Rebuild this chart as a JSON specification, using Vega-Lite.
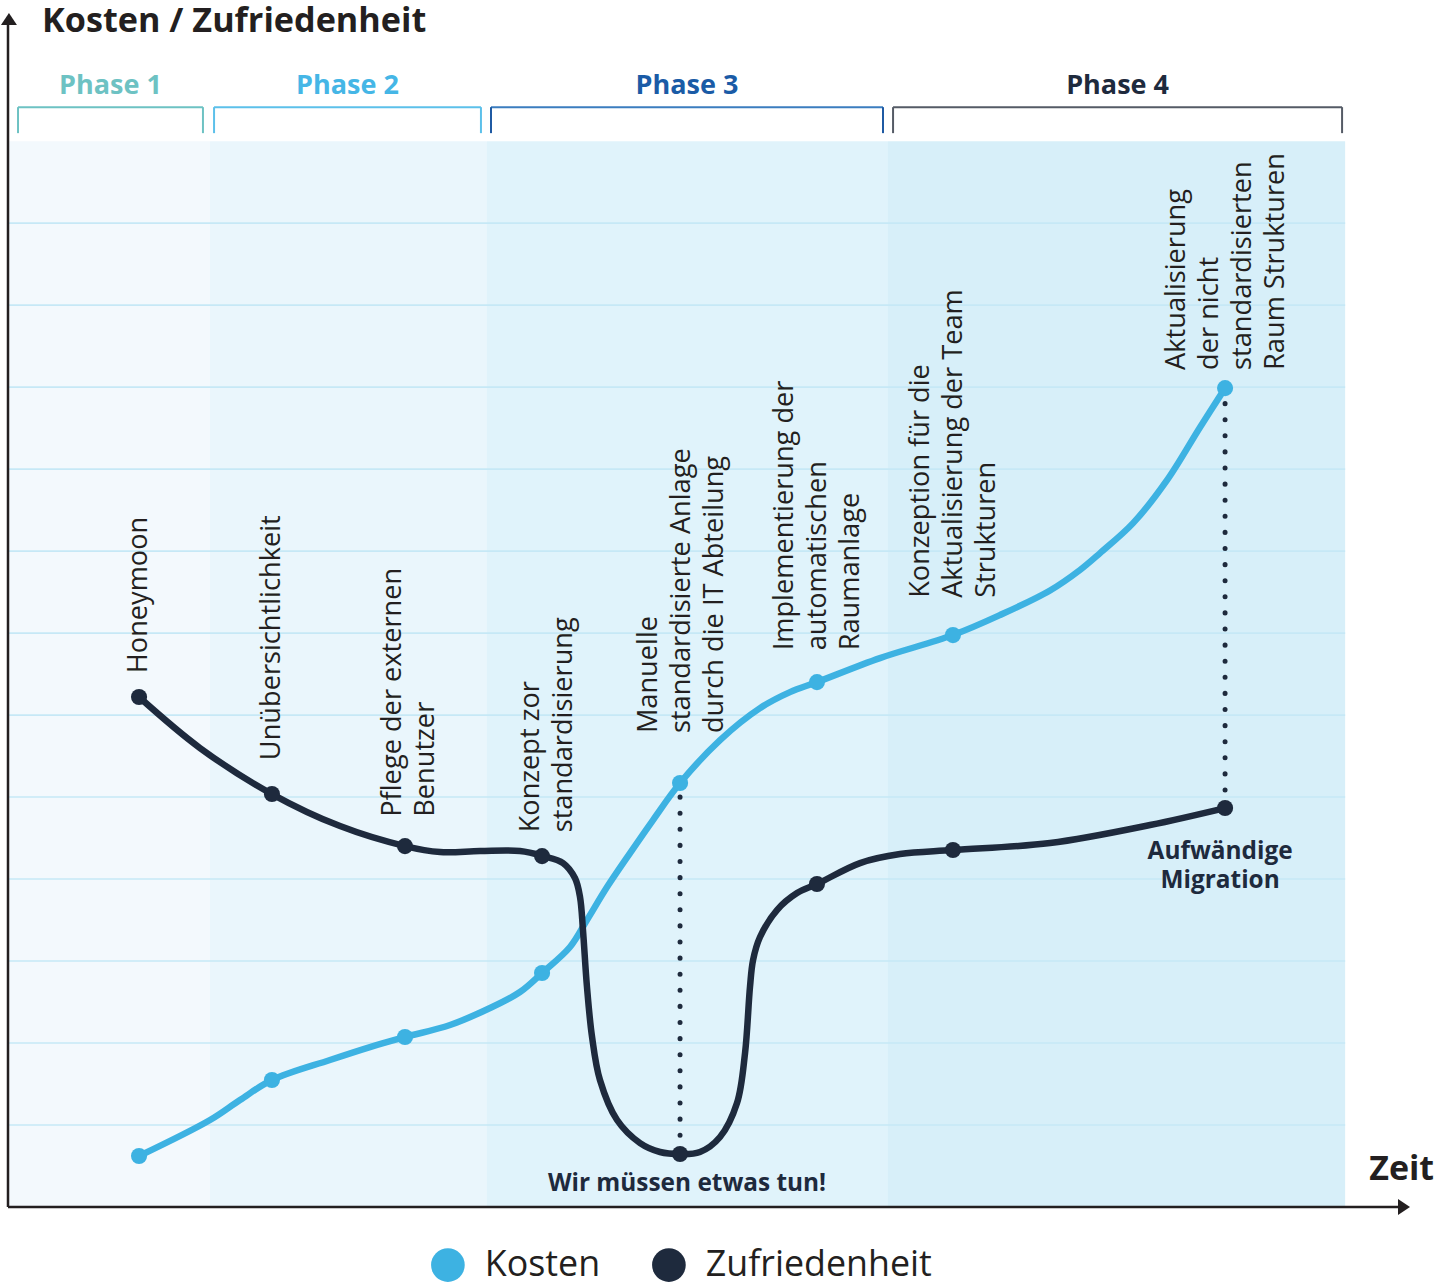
{
  "$schema": "https://vega.github.io/schema/vega-lite/v6.json",
  "width": 1404,
  "height": 1197,
  "autosize": "none",
  "padding": {"left": 8, "top": 10, "right": 25, "bottom": 78},
  "background": "white",
  "config": {"view": {"stroke": null}, "font": "Open Sans"},
  "datasets": {
    "phases": [
      {"phase": "Phase 1", "start": 0, "end": 15.11, "bStart": 0.75, "bEnd": 14.58, "center": 7.66},
      {"phase": "Phase 2", "start": 15.11, "end": 35.82, "bStart": 15.41, "bEnd": 35.37, "center": 25.39},
      {"phase": "Phase 3", "start": 35.82, "end": 65.81, "bStart": 36.12, "bEnd": 65.44, "center": 50.78},
      {"phase": "Phase 4", "start": 65.81, "end": 100, "bStart": 66.19, "bEnd": 99.77, "center": 82.98}
    ],
    "grid": [{"level": 1}, {"level": 2}, {"level": 3}, {"level": 4}, {"level": 5}, {"level": 6}, {"level": 7}, {"level": 8}, {"level": 9}, {"level": 10}, {"level": 11}, {"level": 12}],
    "curve": [
      {"series": "Kosten", "t": 9.80, "v": 0.622},
      {"series": "Kosten", "t": 15.11, "v": 1.061},
      {"series": "Kosten", "t": 17.35, "v": 1.305},
      {"series": "Kosten", "t": 19.74, "v": 1.549},
      {"series": "Kosten", "t": 24.08, "v": 1.793},
      {"series": "Kosten", "t": 27.07, "v": 1.951},
      {"series": "Kosten", "t": 29.69, "v": 2.073},
      {"series": "Kosten", "t": 33.06, "v": 2.220},
      {"series": "Kosten", "t": 36.05, "v": 2.427},
      {"series": "Kosten", "t": 38.29, "v": 2.622},
      {"series": "Kosten", "t": 39.94, "v": 2.854},
      {"series": "Kosten", "t": 42.03, "v": 3.171},
      {"series": "Kosten", "t": 43.30, "v": 3.500},
      {"series": "Kosten", "t": 44.80, "v": 3.902},
      {"series": "Kosten", "t": 46.52, "v": 4.317},
      {"series": "Kosten", "t": 48.24, "v": 4.720},
      {"series": "Kosten", "t": 50.26, "v": 5.171},
      {"series": "Kosten", "t": 53.25, "v": 5.695},
      {"series": "Kosten", "t": 56.24, "v": 6.085},
      {"series": "Kosten", "t": 58.48, "v": 6.280},
      {"series": "Kosten", "t": 60.50, "v": 6.402},
      {"series": "Kosten", "t": 65.21, "v": 6.695},
      {"series": "Kosten", "t": 70.67, "v": 6.976},
      {"series": "Kosten", "t": 74.19, "v": 7.220},
      {"series": "Kosten", "t": 77.93, "v": 7.520},
      {"series": "Kosten", "t": 80.17, "v": 7.770},
      {"series": "Kosten", "t": 81.67, "v": 7.976},
      {"series": "Kosten", "t": 84.14, "v": 8.341},
      {"series": "Kosten", "t": 86.68, "v": 8.866},
      {"series": "Kosten", "t": 89.15, "v": 9.512},
      {"series": "Kosten", "t": 91.02, "v": 9.988},
      {"series": "Zufriedenheit", "t": 9.80, "v": 6.220},
      {"series": "Zufriedenheit", "t": 14.36, "v": 5.598},
      {"series": "Zufriedenheit", "t": 19.74, "v": 5.037},
      {"series": "Zufriedenheit", "t": 24.83, "v": 4.646},
      {"series": "Zufriedenheit", "t": 29.69, "v": 4.402},
      {"series": "Zufriedenheit", "t": 32.31, "v": 4.329},
      {"series": "Zufriedenheit", "t": 35.30, "v": 4.341},
      {"series": "Zufriedenheit", "t": 38.29, "v": 4.341},
      {"series": "Zufriedenheit", "t": 40.01, "v": 4.280},
      {"series": "Zufriedenheit", "t": 41.51, "v": 4.195},
      {"series": "Zufriedenheit", "t": 42.40, "v": 4.012},
      {"series": "Zufriedenheit", "t": 42.78, "v": 3.780},
      {"series": "Zufriedenheit", "t": 43.00, "v": 3.378},
      {"series": "Zufriedenheit", "t": 43.30, "v": 2.683},
      {"series": "Zufriedenheit", "t": 43.68, "v": 2.073},
      {"series": "Zufriedenheit", "t": 44.27, "v": 1.549},
      {"series": "Zufriedenheit", "t": 45.55, "v": 1.061},
      {"series": "Zufriedenheit", "t": 47.27, "v": 0.780},
      {"series": "Zufriedenheit", "t": 48.76, "v": 0.671},
      {"series": "Zufriedenheit", "t": 50.26, "v": 0.646},
      {"series": "Zufriedenheit", "t": 51.75, "v": 0.671},
      {"series": "Zufriedenheit", "t": 53.25, "v": 0.854},
      {"series": "Zufriedenheit", "t": 54.52, "v": 1.268},
      {"series": "Zufriedenheit", "t": 55.12, "v": 1.878},
      {"series": "Zufriedenheit", "t": 55.49, "v": 2.683},
      {"series": "Zufriedenheit", "t": 55.72, "v": 3.012},
      {"series": "Zufriedenheit", "t": 56.24, "v": 3.293},
      {"series": "Zufriedenheit", "t": 57.51, "v": 3.622},
      {"series": "Zufriedenheit", "t": 59.01, "v": 3.829},
      {"series": "Zufriedenheit", "t": 60.50, "v": 3.939},
      {"series": "Zufriedenheit", "t": 63.72, "v": 4.195},
      {"series": "Zufriedenheit", "t": 66.71, "v": 4.305},
      {"series": "Zufriedenheit", "t": 70.67, "v": 4.354},
      {"series": "Zufriedenheit", "t": 77.93, "v": 4.439},
      {"series": "Zufriedenheit", "t": 85.41, "v": 4.659},
      {"series": "Zufriedenheit", "t": 91.02, "v": 4.866}
    ],
    "points": [
      {"series": "Kosten", "t": 9.80, "v": 0.622},
      {"series": "Kosten", "t": 19.74, "v": 1.549},
      {"series": "Kosten", "t": 29.69, "v": 2.073},
      {"series": "Kosten", "t": 39.94, "v": 2.854},
      {"series": "Kosten", "t": 50.26, "v": 5.171},
      {"series": "Kosten", "t": 60.50, "v": 6.402},
      {"series": "Kosten", "t": 70.67, "v": 6.976},
      {"series": "Kosten", "t": 91.02, "v": 9.988},
      {"series": "Zufriedenheit", "t": 9.80, "v": 6.220},
      {"series": "Zufriedenheit", "t": 19.74, "v": 5.037},
      {"series": "Zufriedenheit", "t": 29.69, "v": 4.402},
      {"series": "Zufriedenheit", "t": 39.94, "v": 4.280},
      {"series": "Zufriedenheit", "t": 50.26, "v": 0.646},
      {"series": "Zufriedenheit", "t": 60.50, "v": 3.939},
      {"series": "Zufriedenheit", "t": 70.67, "v": 4.354},
      {"series": "Zufriedenheit", "t": 91.02, "v": 4.866}
    ],
    "labels": [
      {"text": "Honeymoon", "t": 9.80, "v": 6.51},
      {"text": "Unübersichtlichkeit", "t": 19.74, "v": 5.45},
      {"text": "Pflege der externen\nBenutzer", "t": 29.69, "v": 4.76},
      {"text": "Konzept zor\nstandardisierung", "t": 39.94, "v": 4.57},
      {"text": "Manuelle\nstandardisierte Anlage\ndurch die IT Abteilung", "t": 50.26, "v": 5.78},
      {"text": "Implementierung der\nautomatischen\nRaumanlage", "t": 60.50, "v": 6.79},
      {"text": "Konzeption für die\nAktualisierung der Team\nStrukturen", "t": 70.67, "v": 7.43},
      {"text": "Aktualisierung\nder nicht\nstandardisierten\nRaum Strukturen", "t": 91.02, "v": 10.21}
    ],
    "notes": [
      {"text": "Wir müssen etwas tun!", "t": 50.78, "v": 0.28},
      {"text": "Aufwändige", "t": 90.65, "v": 4.33},
      {"text": "Migration", "t": 90.65, "v": 3.98}
    ],
    "drops": [
      {"t": 50.26, "from": 5.0, "to": 0.75},
      {"t": 91.02, "from": 9.8, "to": 4.98}
    ]
  },
  "resolve": {"scale": {"color": "independent"}},
  "layer": [
    {
      "data": {"name": "phases"},
      "mark": {"type": "rect"},
      "encoding": {
        "x": {"field": "start", "type": "quantitative", "scale": {"domain": [0, 105], "nice": false, "zero": false}, "axis": null},
        "x2": {"field": "end"},
        "y": {"datum": 0, "type": "quantitative", "scale": {"domain": [0, 14.6], "nice": false, "zero": false}, "axis": null},
        "y2": {"datum": 13},
        "color": {"field": "phase", "type": "nominal", "legend": null,
          "scale": {"domain": ["Phase 1", "Phase 2", "Phase 3", "Phase 4"], "range": ["#f3f9fd", "#eaf6fc", "#e0f3fb", "#d7eff9"]}}
      }
    },
    {
      "data": {"name": "grid"},
      "mark": {"type": "rule", "color": "#c6e8f6", "strokeWidth": 1.6},
      "encoding": {
        "x": {"datum": 0, "type": "quantitative"},
        "x2": {"datum": 100},
        "y": {"field": "level", "type": "quantitative"}
      }
    },
    {
      "data": {"name": "phases"},
      "mark": {"type": "rule", "strokeWidth": 2},
      "encoding": {
        "x": {"field": "bStart", "type": "quantitative"},
        "x2": {"field": "bEnd"},
        "y": {"datum": 13.415, "type": "quantitative"},
        "color": {"field": "phase", "type": "nominal", "legend": null,
          "scale": {"domain": ["Phase 1", "Phase 2", "Phase 3", "Phase 4"], "range": ["#6dc2c3", "#5cc0ea", "#3b7dbf", "#555b66"]}}
      }
    },
    {
      "data": {"name": "phases"},
      "mark": {"type": "rule", "strokeWidth": 2},
      "encoding": {
        "x": {"field": "bStart", "type": "quantitative"},
        "y": {"datum": 13.098, "type": "quantitative"},
        "y2": {"datum": 13.415},
        "color": {"field": "phase", "type": "nominal", "legend": null,
          "scale": {"domain": ["Phase 1", "Phase 2", "Phase 3", "Phase 4"], "range": ["#6dc2c3", "#5cc0ea", "#1f5aa3", "#555b66"]}}
      }
    },
    {
      "data": {"name": "phases"},
      "mark": {"type": "rule", "strokeWidth": 2},
      "encoding": {
        "x": {"field": "bEnd", "type": "quantitative"},
        "y": {"datum": 13.098, "type": "quantitative"},
        "y2": {"datum": 13.415},
        "color": {"field": "phase", "type": "nominal", "legend": null,
          "scale": {"domain": ["Phase 1", "Phase 2", "Phase 3", "Phase 4"], "range": ["#6dc2c3", "#5cc0ea", "#1f5aa3", "#555b66"]}}
      }
    },
    {
      "data": {"name": "phases"},
      "mark": {"type": "text", "fontSize": 27, "fontWeight": "bold", "font": "Open Sans", "align": "center", "baseline": "middle"},
      "encoding": {
        "x": {"field": "center", "type": "quantitative"},
        "y": {"datum": 13.67, "type": "quantitative"},
        "text": {"field": "phase"},
        "color": {"field": "phase", "type": "nominal", "legend": null,
          "scale": {"domain": ["Phase 1", "Phase 2", "Phase 3", "Phase 4"], "range": ["#6dc2c3", "#45b6e6", "#1a5ba6", "#1e2a3d"]}}
      }
    },
    {
      "data": {"name": "drops"},
      "mark": {"type": "rule", "color": "#1e2a3d", "strokeWidth": 5, "strokeCap": "round", "strokeDash": [0.1, 16]},
      "encoding": {
        "x": {"field": "t", "type": "quantitative"},
        "y": {"field": "from", "type": "quantitative"},
        "y2": {"field": "to"}
      }
    },
    {
      "data": {"name": "curve"},
      "mark": {"type": "line", "interpolate": "catmull-rom", "strokeWidth": 6.5, "strokeCap": "round", "strokeJoin": "round"},
      "encoding": {
        "x": {"field": "t", "type": "quantitative"},
        "y": {"field": "v", "type": "quantitative"},
        "color": {"field": "series", "type": "nominal", "legend": null,
          "scale": {"domain": ["Kosten", "Zufriedenheit"], "range": ["#3db2e2", "#1e2a3d"]}}
      }
    },
    {
      "data": {"name": "points"},
      "mark": {"type": "point", "filled": true, "opacity": 1, "size": 260},
      "encoding": {
        "x": {"field": "t", "type": "quantitative"},
        "y": {"field": "v", "type": "quantitative"},
        "color": {"field": "series", "type": "nominal",
          "scale": {"domain": ["Kosten", "Zufriedenheit"], "range": ["#3db2e2", "#1e2a3d"]},
          "legend": {"orient": "none", "legendX": 422, "legendY": 1237, "direction": "horizontal", "title": null,
            "symbolType": "circle", "symbolSize": 1134, "symbolStrokeWidth": 0, "symbolOpacity": 1,
            "labelFontSize": 35.8, "labelFont": "Open Sans", "labelColor": "#231f20", "labelOffset": 19,
            "columnPadding": 50, "padding": 0, "labelLimit": 400}}
      }
    },
    {
      "data": {"name": "labels"},
      "transform": [{"filter": "length(split(datum.text, '\\n')) == 1"}],
      "mark": {"type": "text", "angle": 270, "align": "left", "baseline": "middle", "fontSize": 27.2, "font": "Open Sans", "color": "#231f20", "lineBreak": "\n", "lineHeight": 33},
      "encoding": {
        "x": {"field": "t", "type": "quantitative"},
        "y": {"field": "v", "type": "quantitative"},
        "text": {"field": "text"}
      }
    },
    {
      "data": {"name": "labels"},
      "transform": [{"filter": "length(split(datum.text, '\\n')) == 2"}],
      "mark": {"type": "text", "angle": 270, "align": "left", "baseline": "middle", "dy": -11.5, "fontSize": 27.2, "font": "Open Sans", "color": "#231f20", "lineBreak": "\n", "lineHeight": 33},
      "encoding": {
        "x": {"field": "t", "type": "quantitative"},
        "y": {"field": "v", "type": "quantitative"},
        "text": {"field": "text"}
      }
    },
    {
      "data": {"name": "labels"},
      "transform": [{"filter": "length(split(datum.text, '\\n')) == 3"}],
      "mark": {"type": "text", "angle": 270, "align": "left", "baseline": "middle", "dy": -31.5, "fontSize": 27.2, "font": "Open Sans", "color": "#231f20", "lineBreak": "\n", "lineHeight": 33},
      "encoding": {
        "x": {"field": "t", "type": "quantitative"},
        "y": {"field": "v", "type": "quantitative"},
        "text": {"field": "text"}
      }
    },
    {
      "data": {"name": "labels"},
      "transform": [{"filter": "length(split(datum.text, '\\n')) == 4"}],
      "mark": {"type": "text", "angle": 270, "align": "left", "baseline": "middle", "dy": -48, "fontSize": 27.2, "font": "Open Sans", "color": "#231f20", "lineBreak": "\n", "lineHeight": 33},
      "encoding": {
        "x": {"field": "t", "type": "quantitative"},
        "y": {"field": "v", "type": "quantitative"},
        "text": {"field": "text"}
      }
    },
    {
      "data": {"name": "notes"},
      "mark": {"type": "text", "align": "center", "baseline": "middle", "fontSize": 24.4, "fontWeight": "bold", "font": "Open Sans", "color": "#1e2a3d"},
      "encoding": {
        "x": {"field": "t", "type": "quantitative"},
        "y": {"field": "v", "type": "quantitative"},
        "text": {"field": "text"}
      }
    },
    {
      "data": {"values": [{}]},
      "mark": {"type": "rule", "color": "#231f20", "strokeWidth": 2.5},
      "encoding": {"x": {"datum": 0, "type": "quantitative"}, "y": {"datum": 0, "type": "quantitative"}, "y2": {"datum": 14.45}}
    },
    {
      "data": {"values": [{}]},
      "mark": {"type": "rule", "color": "#231f20", "strokeWidth": 2.5},
      "encoding": {"x": {"datum": 0, "type": "quantitative"}, "x2": {"datum": 104.1}, "y": {"datum": 0, "type": "quantitative"}}
    },
    {
      "data": {"values": [{}]},
      "mark": {"type": "point", "shape": "M0,-0.75L1,0.75L-1,0.75Z", "size": 256, "filled": true, "opacity": 1, "color": "#231f20"},
      "encoding": {"x": {"datum": 0.07, "type": "quantitative"}, "y": {"datum": 14.49, "type": "quantitative"}}
    },
    {
      "data": {"values": [{}]},
      "mark": {"type": "point", "shape": "M0.75,0L-0.75,1L-0.75,-1Z", "size": 256, "filled": true, "opacity": 1, "color": "#231f20"},
      "encoding": {"x": {"datum": 104.4, "type": "quantitative"}, "y": {"datum": 0, "type": "quantitative"}}
    },
    {
      "data": {"values": [{}]},
      "mark": {"type": "text", "text": "Kosten / Zufriedenheit", "align": "left", "baseline": "middle", "fontSize": 34.2, "fontWeight": "bold", "font": "Open Sans", "color": "#231f20"},
      "encoding": {"x": {"datum": 2.55, "type": "quantitative"}, "y": {"datum": 14.45, "type": "quantitative"}}
    },
    {
      "data": {"values": [{}]},
      "mark": {"type": "text", "text": "Zeit", "align": "left", "baseline": "middle", "fontSize": 34, "fontWeight": "bold", "font": "Open Sans", "color": "#231f20"},
      "encoding": {"x": {"datum": 101.8, "type": "quantitative"}, "y": {"datum": 0.45, "type": "quantitative"}}
    }
  ]
}
